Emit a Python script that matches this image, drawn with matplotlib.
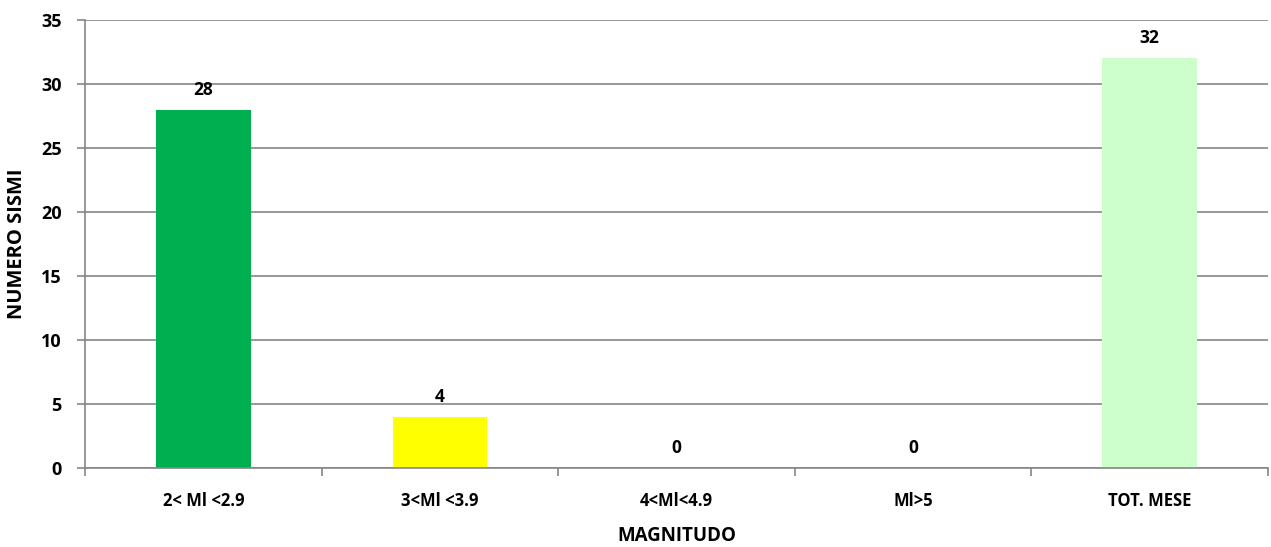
import matplotlib
matplotlib.use("Agg")
import matplotlib.pyplot as plt
from matplotlib.ticker import FixedLocator

categories = ["2< Ml <2.9", "3<Ml <3.9", "4<Ml<4.9", "Ml>5", "TOT. MESE"]
values = [28, 4, 0, 0, 32]
colors = ["#00B050", "#FFFF00", "#FFFFFF", "#FFFFFF", "#CCFFCC"]
yticks = [0, 5, 10, 15, 20, 25, 30, 35]

plt.rcParams['font.family'] = ['Open Sans', 'DejaVu Sans']
plt.rcParams['font.weight'] = 'bold'

fig = plt.figure(figsize=(12.71, 5.47), dpi=100)
ax = fig.add_axes([0.0669, 0.1444, 0.9307, 0.819])

x = list(range(len(categories)))
ax.bar(x, values, width=0.4, color=colors, zorder=2)
for xi, v in zip(x, values):
    ax.annotate(str(v), (xi, v), xytext=(0, 8), textcoords='offset points',
                ha='center', va='bottom', fontsize=12.5, fontweight='bold')

ax.set_xlim(-0.5, len(categories) - 0.5)
ax.set_ylim(0, 35)
ax.set_yticks(yticks)
ax.yaxis.grid(True, color='#868686', linewidth=1.2, zorder=0)
ax.set_axisbelow(True)

ax.set_xticks(x)
ax.set_xticklabels(categories, fontsize=12, fontweight='bold')
ax.xaxis.set_minor_locator(FixedLocator([i - 0.5 for i in range(len(categories) + 1)]))
ax.tick_params(axis='x', which='major', length=0, pad=17)
ax.tick_params(axis='x', which='minor', length=6, color='#868686', width=1.2)
ax.tick_params(axis='y', length=6, color='#868686', width=1.2, labelsize=13, pad=11)
for lab in ax.get_yticklabels():
    lab.set_fontweight('bold')

for s in ['top', 'right']:
    ax.spines[s].set_visible(False)
for s in ['left', 'bottom']:
    ax.spines[s].set_color('#868686')
    ax.spines[s].set_linewidth(1.2)

ax.set_xlabel("MAGNITUDO", fontsize=13.5, fontweight='bold', labelpad=12)
ax.set_ylabel("NUMERO SISMI", fontsize=14.5, fontweight='bold', labelpad=10)

fig.savefig("out.png", dpi=100)
